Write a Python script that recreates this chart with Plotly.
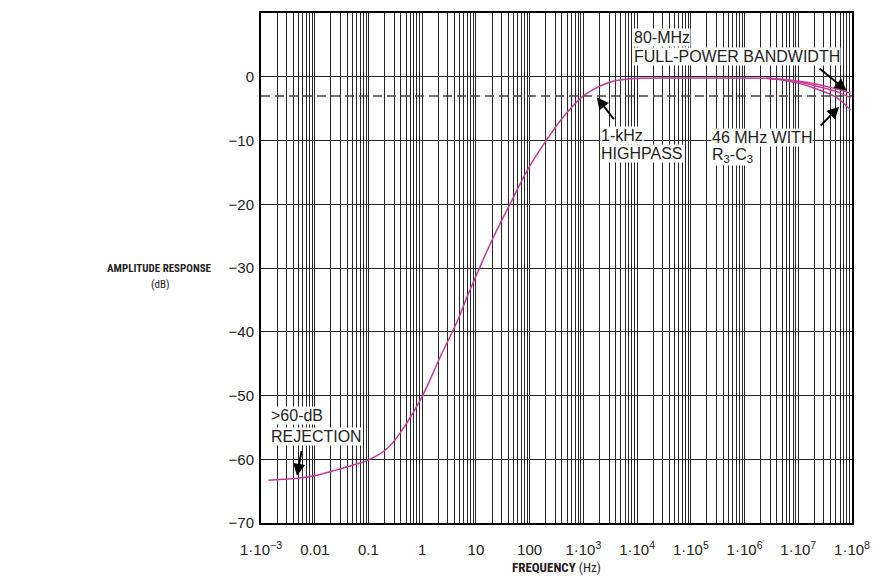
import plotly.graph_objects as go

# ---- data ----
freq_hz = [0.00137, 0.0026, 0.00532, 0.0109, 0.0222, 0.0454, 0.1, 0.218, 0.386,
           0.98, 2.15, 4.7, 6.7, 10, 20, 41.8, 94.4, 207, 423, 1000,
           2000, 3600, 11300, 63000, 1e6, 2.5e6]
gain_db = [-63.3, -63.15, -62.95, -62.5, -61.8, -61.05, -60.1, -58.4, -55.9,
           -50.3, -44.0, -38.0, -34.7, -31.3, -25.6, -20.2, -14.4, -9.9, -6.3, -3.0,
           -1.5, -0.7, -0.25, -0.2, -0.2, -0.25]

# high-frequency roll-off branches
hf_freq = [2.5e6, 5e6, 1e7, 2e7, 5e7, 9.4e7]
hf_80mhz = [-0.25, -0.4, -0.7, -1.1, -1.9, -2.6]
hf_mid = [-0.25, -0.45, -0.8, -1.4, -2.3, -3.3]
hf_46mhz = [-0.25, -0.5, -1.0, -1.8, -3.2, -5.2]

x_tick_vals = [1e-3, 1e-2, 1e-1, 1, 10, 100, 1e3, 1e4, 1e5, 1e6, 1e7, 1e8]
x_tick_text = ["1·10<sup>−3</sup>", "0.01", "0.1", "1", "10", "100",
               "1·10<sup>3</sup>", "1·10<sup>4</sup>", "1·10<sup>5</sup>",
               "1·10<sup>6</sup>", "1·10<sup>7</sup>", "1·10<sup>8</sup>"]
y_tick_vals = [-70, -60, -50, -40, -30, -20, -10, 0, 10]
y_tick_text = ["−70", "−60", "−50", "−40", "−30", "−20", "−10", "0", "10"]
cutoff_db = -3

# ---- styling ----
CURVE = "#c8389b"
FONT = "Liberation Sans, Arial, sans-serif"
TFONT = "Roboto Condensed, Liberation Sans Narrow, DejaVu Sans Condensed, Roboto, sans-serif"
GRID = "#262626"

# full grid: 1..9 x each decade
grid_vals = []
grid_text = []
for i, dec in enumerate(x_tick_vals[:-1]):
    for m in range(1, 10):
        grid_vals.append(m * dec)
        grid_text.append(x_tick_text[i] if m == 1 else "")
grid_vals.append(x_tick_vals[-1])
grid_text.append(x_tick_text[-1])

fig = go.Figure()
fig.add_trace(go.Scatter(x=freq_hz, y=gain_db, mode="lines",
                         line=dict(color=CURVE, width=1.5, shape="spline", smoothing=1.0),
                         showlegend=False))
for branch in (hf_80mhz, hf_mid, hf_46mhz):
    fig.add_trace(go.Scatter(x=hf_freq, y=branch, mode="lines",
                             line=dict(color=CURVE, width=1.5, shape="spline", smoothing=1.0),
                             showlegend=False))

fig.add_shape(type="line", xref="paper", x0=0, x1=1, yref="y", y0=cutoff_db, y1=cutoff_db,
              line=dict(color="#444444", width=1.5, dash="9px,5px"), layer="above")

fig.update_xaxes(type="log", range=[-3, 8], tickvals=grid_vals, ticktext=grid_text,
                 showgrid=True, gridcolor=GRID, gridwidth=1, zeroline=False,
                 showline=True, linecolor="black", linewidth=2, mirror=True,
                 ticks="", ticklabelstandoff=12, automargin=False,
                 tickfont=dict(family=FONT, size=15, color="#222"))
fig.update_yaxes(range=[-70, 10], tickvals=y_tick_vals, ticktext=y_tick_text,
                 showgrid=True, gridcolor=GRID, gridwidth=1, zeroline=False,
                 showline=True, linecolor="black", linewidth=2, mirror=True,
                 ticks="", ticklabelstandoff=2, automargin=False,
                 tickfont=dict(family=FONT, size=15, color="#222"))


def lbl(text, lx, y):
    fig.add_annotation(x=lx, y=y, xref="x", yref="y", text=text, showarrow=False,
                       xanchor="left", yanchor="middle", bgcolor="white", borderpad=0,
                       font=dict(family=FONT, size=16, color="#222"))


def arrow(tx, ty, sx, sy):
    fig.add_annotation(x=tx, y=ty, xref="x", yref="y", ax=sx, ay=sy, axref="x", ayref="y",
                       text="", showarrow=True, arrowhead=2, arrowsize=1.2, arrowwidth=2,
                       arrowcolor="black")


lbl("80-MHz", 3.92, 6.2)
lbl("FULL-POWER BANDWIDTH", 3.92, 3.1)
lbl("1-kHz", 3.31, -9.2)
lbl("HIGHPASS", 3.31, -12.1)
lbl("46 MHz WITH", 5.37, -9.5)
lbl("R<sub>3</sub>-C<sub>3</sub>", 5.37, -12.3)
lbl("&gt;60-dB", -2.83, -53.2)
lbl("REJECTION", -2.83, -56.5)

arrow(3.25, -3.2, 3.59, -6.9)
arrow(7.90, -2.2, 7.37, 1.5)
arrow(7.76, -4.7, 7.39, -7.9)
arrow(-2.33, -62.6, -2.24, -58.5)

fig.add_annotation(x=-0.171, y=0.5, xref="paper", yref="paper", showarrow=False,
                   text="<b>AMPLITUDE RESPONSE</b>", xanchor="center", yanchor="middle",
                   font=dict(family=TFONT, size=11, color="#222"))
fig.add_annotation(x=-0.171, y=0.467, xref="paper", yref="paper", showarrow=False,
                   text="(dB)", xanchor="center", yanchor="middle",
                   font=dict(family=TFONT, size=11, color="#222"))
fig.add_annotation(x=0.5, y=-0.087, xref="paper", yref="paper", showarrow=False,
                   text="<b>FREQUENCY</b> (Hz)", xanchor="center", yanchor="middle",
                   font=dict(family=TFONT, size=13, color="#222"))

# the page body has an 8 px margin, so the margins are offset to keep the plot area in place
fig.update_layout(width=884, height=581, margin=dict(l=253, r=40, t=5, b=66),
                  plot_bgcolor="white", paper_bgcolor="white", showlegend=False)

fig.write_html("out.html")
